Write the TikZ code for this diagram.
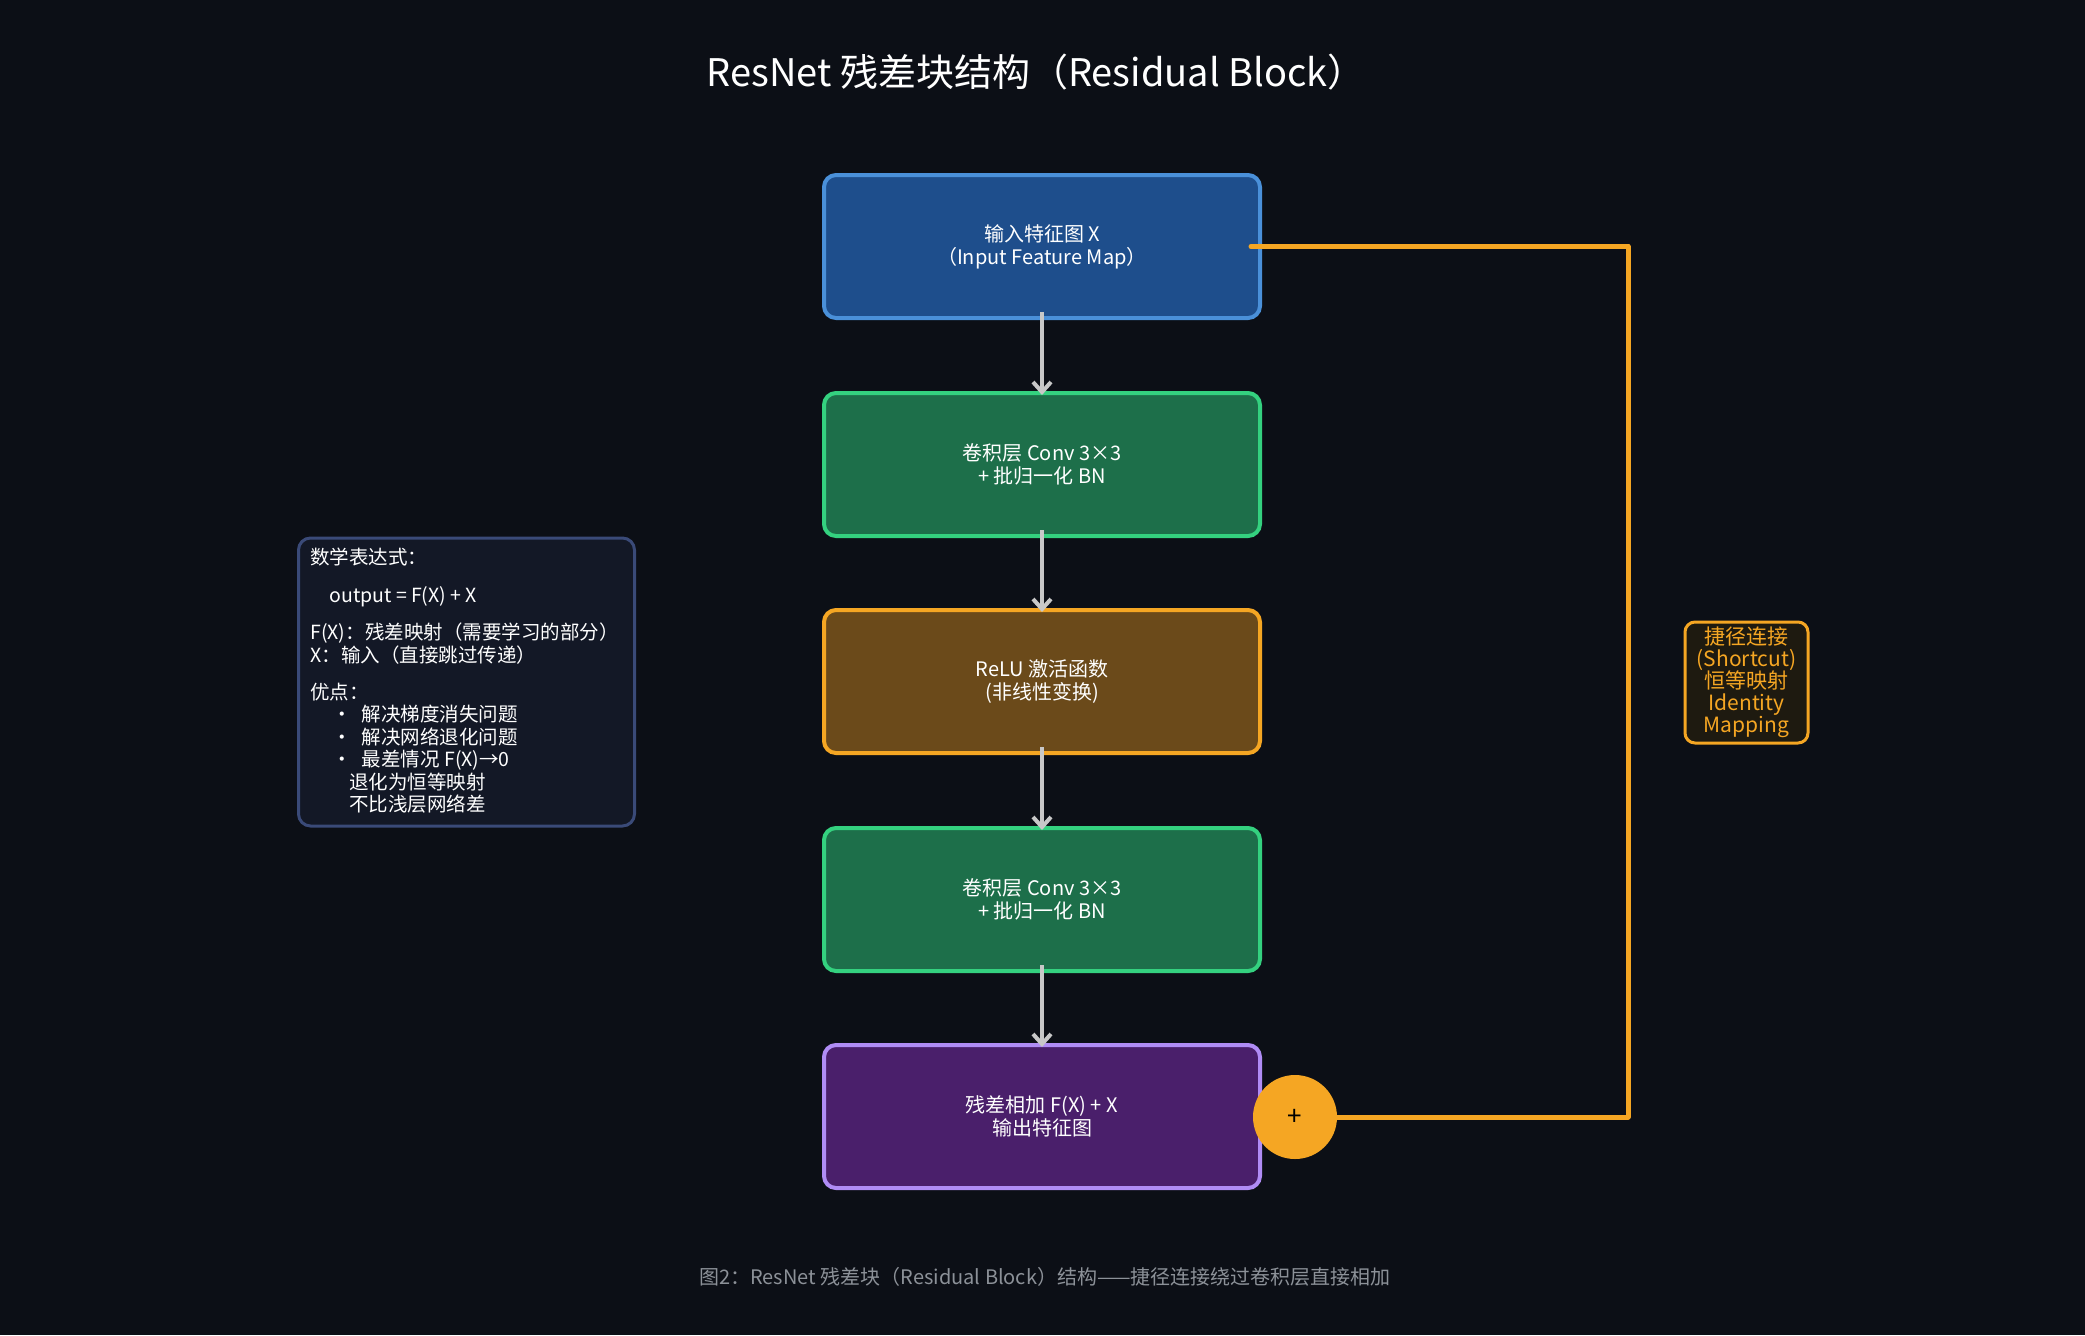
\documentclass[tikz,border=0pt]{standalone}
\usepackage{fontspec}
\setmainfont{Noto Sans CJK SC}
\usetikzlibrary{arrows.meta}
\definecolor{bgc}{HTML}{0C0F16}
\definecolor{inF}{HTML}{1E4E8C}\definecolor{inD}{HTML}{4A90D9}
\definecolor{cvF}{HTML}{1D6F4A}\definecolor{cvD}{HTML}{34D17F}
\definecolor{rlF}{HTML}{6B4A1A}\definecolor{orng}{HTML}{F5A623}
\definecolor{adF}{HTML}{4A1F6B}\definecolor{adD}{HTML}{B08CF5}
\definecolor{mbF}{HTML}{131826}\definecolor{mbD}{HTML}{3A4A78}
\definecolor{lbF}{HTML}{1E1A10}
\definecolor{arrc}{HTML}{C8C8C8}
\definecolor{capc}{HTML}{8C9198}
\tikzset{
  blockbox/.style={draw, line width=2pt, rounded corners=6pt, minimum width=218pt,
    minimum height=71.5pt, inner sep=0pt, align=center, text=white,
    font=\fontsize{10}{11.5}\selectfont},
  flowarr/.style={draw=arrc, line width=2pt, -{Straight Barb[length=5pt,width=9pt]}},
  shortline/.style={draw=orng, line width=2.5pt, line cap=round},
}
\begin{document}
\begin{tikzpicture}[x=0.5pt,y=-0.5pt]
\useasboundingbox (0,0) rectangle (2085,1335);
\fill[bgc] (0,0) rectangle (2085,1335);

\node[text=white, font=\fontsize{19}{21}\selectfont] (title) at (1036,72) {ResNet 残差块结构（Residual Block）};

\node[blockbox, fill=inF, draw=inD] (b1) at (1042,246.5) {输入特征图 X\\（Input Feature Map）};
\node[blockbox, fill=cvF, draw=cvD] (b2) at (1042,464.5) {卷积层 Conv 3×3\\+ 批归一化 BN};
\node[blockbox, fill=rlF, draw=orng] (b3) at (1042,681.5) {ReLU 激活函数\\(非线性变换)};
\node[blockbox, fill=cvF, draw=cvD] (b4) at (1042,899.5) {卷积层 Conv 3×3\\+ 批归一化 BN};
\node[blockbox, fill=adF, draw=adD] (b5) at (1042,1116.5) {残差相加 F(X) + X\\输出特征图};

\node[circle, fill=orng, minimum size=42pt, inner sep=0pt, text=black,
  font=\fontsize{13}{13}\selectfont] (plus) at (1295,1117) {+};

\draw[flowarr] ([yshift=4pt]b1.south) -- ([yshift=-2pt]b2.north);
\draw[flowarr] ([yshift=4pt]b2.south) -- ([yshift=-2pt]b3.north);
\draw[flowarr] ([yshift=4pt]b3.south) -- ([yshift=-2pt]b4.north);
\draw[flowarr] ([yshift=4pt]b4.south) -- ([yshift=-2pt]b5.north);

\coordinate (sc1) at (1628,246.5);
\coordinate (sc2) at (1628,1117);
\draw[shortline] ([xshift=-5.5pt]b1.east) -- (sc1);
\draw[shortline] (sc1) -- (sc2);
\draw[shortline] (sc2) -- (plus.east);

\node[draw=orng, fill=lbF, line width=1.5pt, rounded corners=5pt, minimum width=61.5pt,
  minimum height=60.5pt, inner sep=0pt, align=center, text=orng,
  font=\fontsize{10.5}{11}\selectfont] (lbl) at (1746.5,682.5)
  {捷径连接\\(Shortcut)\\恒等映射\\Identity\\Mapping};

\node[draw=mbD, fill=mbF, line width=1.5pt, rounded corners=6pt, minimum width=168pt,
  minimum height=144pt, inner sep=0pt] (mbox) at (466.5,682) {};
\node[anchor=north west, align=left, text=white, inner sep=0pt,
  font=\fontsize{9.75}{11.2}\selectfont] (mtext) at (310,548)
  {数学表达式：\\[7.5pt]
   \hspace*{9.5pt}output = F(X) + X\\[7.5pt]
   F(X)：残差映射（需要学习的部分）\\
   X：输入（直接跳过传递）\\[7.5pt]
   优点：\\
   \hspace*{11pt}·\hspace*{5pt}解决梯度消失问题\\
   \hspace*{11pt}·\hspace*{5pt}解决网络退化问题\\
   \hspace*{11pt}·\hspace*{5pt}最差情况 F(X)→0\\
   \hspace*{19.5pt}退化为恒等映射\\
   \hspace*{19.5pt}不比浅层网络差};

\node[text=capc, font=\fontsize{10}{11}\selectfont] (cap) at (1045,1277)
  {图2：ResNet 残差块（Residual Block）结构——捷径连接绕过卷积层直接相加};
\end{tikzpicture}
\end{document}
